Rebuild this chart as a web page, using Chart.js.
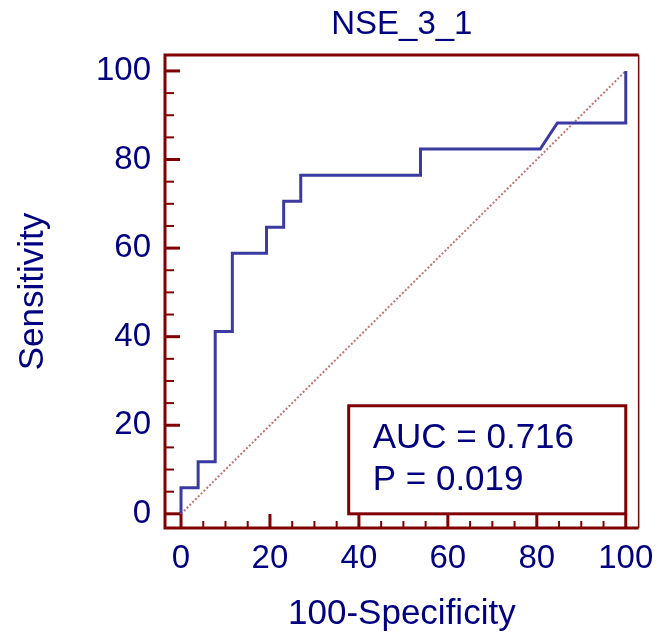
<!DOCTYPE html>
<html>
<head>
<meta charset="utf-8">
<script src="https://cdn.jsdelivr.net/npm/chart.js@4"></script>
<style>
  html, body { margin: 0; padding: 0; background: #ffffff; }
  #wrap { width: 665px; height: 633px; }
</style>
</head>
<body>
<div id="wrap"><canvas id="roc" width="665" height="633"></canvas></div>
<script>
// ROC curve for NSE_3_1
const chartTitle = 'NSE_3_1';
const xAxisLabel = '100-Specificity';
const yAxisLabel = 'Sensitivity';

// curve vertices: 100-Specificity (%) and Sensitivity (%)
const fprValues = [0, 0, 3.85, 3.85, 7.69, 7.69, 11.54, 11.54, 19.23, 19.23, 23.08, 23.08, 26.92, 26.92, 53.85, 53.85, 80.77, 84.62, 100, 100];
const tprValues = [0, 5.88, 5.88, 11.76, 11.76, 41.18, 41.18, 58.82, 58.82, 64.71, 64.71, 70.59, 70.59, 76.47, 76.47, 82.35, 82.35, 88.24, 88.24, 100];

// chance line
const refX = [0, 100];
const refY = [0, 100];

// axis ticks
const majorTicks = [0, 20, 40, 60, 80, 100];
const minorTicks = [5, 10, 15, 25, 30, 35, 45, 50, 55, 65, 70, 75, 85, 90, 95];

// summary statistics
const statLines = ['AUC = 0.716', 'P = 0.019'];

const FRAME = '#800000';
const NAVY = '#000080';
const FONT = "'Liberation Sans', Arial, sans-serif";

const rocPoints = fprValues.map((x, i) => ({ x: x, y: tprValues[i] }));
const refPoints = refX.map((x, i) => ({ x: x, y: refY[i] }));

// frame, inward tick marks and the statistics box
const framePlugin = {
  id: 'rocFrame',
  afterDatasetsDraw(chart) {
    const { ctx, chartArea: a, scales } = chart;
    const xs = scales.x, ys = scales.y;
    ctx.save();
    ctx.strokeStyle = FRAME;
    ctx.lineCap = 'butt';

    // tick marks pointing into the plot
    const drawTicks = (values, lenY, lenX, width) => {
      ctx.lineWidth = width;
      values.forEach(v => {
        const py = ys.getPixelForValue(v);
        ctx.beginPath();
        ctx.moveTo(a.left, py);
        ctx.lineTo(a.left + lenY, py);
        ctx.stroke();
        const px = xs.getPixelForValue(v);
        ctx.beginPath();
        ctx.moveTo(px, a.bottom);
        ctx.lineTo(px, a.bottom - lenX);
        ctx.stroke();
      });
    };
    drawTicks(minorTicks, 9, 7, 2);
    drawTicks(majorTicks, 15, 14, 3);

    // plot frame
    ctx.lineWidth = 3;
    ctx.beginPath();
    ctx.moveTo(a.right, a.top);
    ctx.lineTo(a.left, a.top);
    ctx.lineTo(a.left, a.bottom);
    ctx.lineTo(a.right, a.bottom);
    ctx.stroke();
    ctx.lineWidth = 1.5;
    ctx.beginPath();
    ctx.moveTo(a.right, a.top);
    ctx.lineTo(a.right, a.bottom);
    ctx.stroke();

    // statistics box
    const opts = chart.options.plugins.rocFrame;
    const bx0 = xs.getPixelForValue(opts.boxFrom.x);
    const bx1 = xs.getPixelForValue(opts.boxTo.x);
    const by0 = ys.getPixelForValue(opts.boxTo.y);
    const by1 = ys.getPixelForValue(opts.boxFrom.y);
    ctx.fillStyle = '#ffffff';
    ctx.fillRect(bx0, by0, bx1 - bx0, by1 - by0);
    ctx.lineWidth = 3;
    ctx.strokeRect(bx0, by0, bx1 - bx0, by1 - by0);

    ctx.fillStyle = NAVY;
    ctx.font = '35px ' + FONT;
    ctx.textAlign = 'left';
    ctx.textBaseline = 'alphabetic';
    statLines.forEach((t, i) => {
      ctx.fillText(t, bx0 + 24, by0 + 42 + i * 42);
    });
    ctx.restore();
  }
};

new Chart(document.getElementById('roc'), {
  type: 'scatter',
  data: {
    datasets: [
      {
        data: refPoints,
        showLine: true,
        borderColor: '#c47070',
        borderWidth: 2,
        borderDash: [2, 2],
        pointRadius: 0,
        order: 2
      },
      {
        data: rocPoints,
        showLine: true,
        borderColor: '#3a3aa0',
        borderWidth: 3,
        pointRadius: 0,
        tension: 0,
        order: 1
      }
    ]
  },
  options: {
    responsive: false,
    animation: false,
    devicePixelRatio: 1,
    layout: { padding: 0 },
    plugins: {
      legend: { display: false },
      tooltip: { enabled: false },
      title: {
        display: true,
        fullSize: false,
        text: chartTitle,
        color: NAVY,
        font: { family: FONT, size: 33, weight: 'normal', lineHeight: 1.2 },
        padding: { top: 5, bottom: 10.4 }
      },
      rocFrame: {
        boxFrom: { x: 37.7, y: 0 },
        boxTo: { x: 100, y: 24.4 }
      }
    },
    scales: {
      x: {
        type: 'linear',
        min: -3.6,
        max: 102.9,
        afterBuildTicks: s => { s.ticks = majorTicks.map(v => ({ value: v })); },
        afterFit: s => { s.height = 105; },
        grid: { display: false, drawTicks: false },
        border: { display: false },
        ticks: {
          color: NAVY,
          padding: 11,
          maxRotation: 0,
          autoSkip: false,
          font: { family: FONT, size: 33, lineHeight: 1.2 }
        },
        title: {
          display: true,
          text: xAxisLabel,
          color: NAVY,
          font: { family: FONT, size: 35, lineHeight: 1 },
          padding: { top: 0, bottom: 1.5 }
        }
      },
      y: {
        type: 'linear',
        min: -3.2,
        max: 103.6,
        afterBuildTicks: s => { s.ticks = majorTicks.map(v => ({ value: v })); },
        afterFit: s => { s.width = 165; },
        grid: { display: false, drawTicks: false },
        border: { display: false },
        ticks: {
          color: NAVY,
          padding: 14,
          autoSkip: false,
          font: { family: FONT, size: 33, lineHeight: 1.2 }
        },
        title: {
          display: true,
          text: yAxisLabel,
          color: NAVY,
          font: { family: FONT, size: 35, lineHeight: 1 },
          padding: { top: 15.5, bottom: 0 }
        }
      }
    }
  },
  plugins: [framePlugin]
});
</script>
</body>
</html>
